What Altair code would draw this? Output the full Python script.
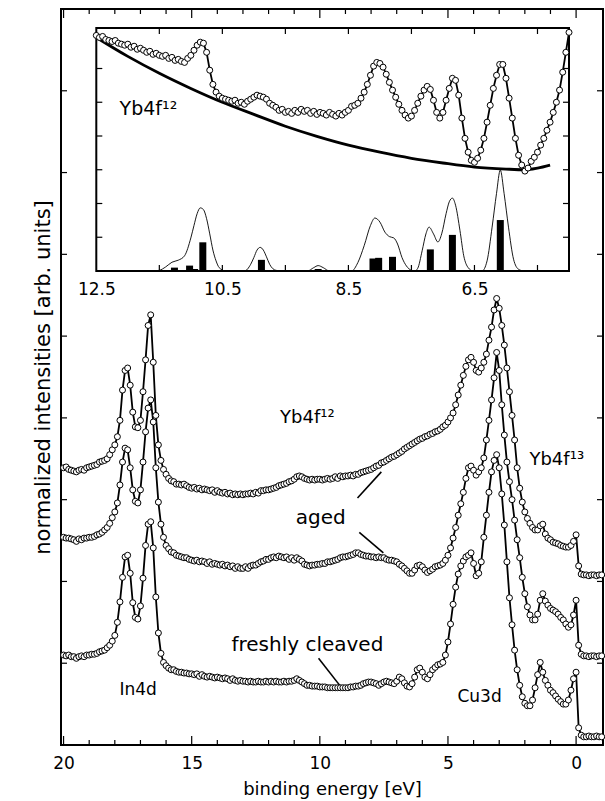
import altair as alt
import pandas as pd

# ---------------- main panel: energy grid (binding energy, eV) ----------------
ENERGY = [round(20.0 - 0.1 * i, 1) for i in range(211)]

# aged sample, upper curve (20.0 eV first, -1.0 eV last)
AGED_UPPER = [
    3.39,
    3.40, 3.37, 3.36, 3.35, 3.34, 3.36, 3.37, 3.36, 3.39, 3.40,
    3.41, 3.42, 3.43, 3.46, 3.47, 3.48, 3.50, 3.55, 3.61, 3.67,
    3.77, 3.97, 4.34, 4.58, 4.61, 4.40, 4.07, 3.89, 3.88, 3.97,
    4.32, 4.71, 5.13, 5.26, 4.68, 4.03, 3.67, 3.48, 3.37, 3.31,
    3.26, 3.23, 3.22, 3.19, 3.19, 3.18, 3.19, 3.17, 3.15, 3.14,
    3.15, 3.13, 3.14, 3.12, 3.13, 3.12, 3.11, 3.12, 3.09, 3.11,
    3.09, 3.08, 3.09, 3.07, 3.08, 3.06, 3.07, 3.06, 3.07, 3.06,
    3.07, 3.07, 3.08, 3.07, 3.09, 3.08, 3.11, 3.11, 3.12, 3.12,
    3.13, 3.14, 3.15, 3.17, 3.18, 3.19, 3.20, 3.22, 3.23, 3.25,
    3.28, 3.29, 3.28, 3.26, 3.25, 3.24, 3.25, 3.24, 3.25, 3.25,
    3.24, 3.25, 3.26, 3.25, 3.26, 3.28, 3.26, 3.29, 3.28, 3.29,
    3.29, 3.30, 3.29, 3.31, 3.31, 3.33, 3.34, 3.35, 3.36, 3.37,
    3.39, 3.41, 3.42, 3.45, 3.46, 3.48, 3.50, 3.52, 3.53, 3.55,
    3.57, 3.59, 3.62, 3.64, 3.66, 3.68, 3.70, 3.72, 3.74, 3.75,
    3.77, 3.78, 3.80, 3.81, 3.83, 3.84, 3.86, 3.89, 3.91, 3.95,
    4.00, 4.06, 4.16, 4.28, 4.40, 4.52, 4.63, 4.71, 4.74, 4.68,
    4.58, 4.56, 4.61, 4.68, 4.78, 4.95, 5.11, 5.32, 5.46, 5.34,
    5.13, 4.89, 4.61, 4.32, 4.03, 3.73, 3.39, 3.14, 2.97, 2.85,
    2.77, 2.71, 2.66, 2.63, 2.63, 2.68, 2.70, 2.58, 2.53, 2.51,
    2.48, 2.47, 2.46, 2.44, 2.43, 2.42, 2.42, 2.44, 2.49, 2.57,
    2.19, 2.09, 2.08, 2.08, 2.07, 2.08, 2.08, 2.07, 2.08, 2.08,
]

# aged sample, lower curve
AGED_LOWER = [
    2.54,
    2.53, 2.53, 2.52, 2.51, 2.49, 2.52, 2.51, 2.53, 2.53, 2.54,
    2.54, 2.55, 2.57, 2.58, 2.60, 2.63, 2.66, 2.71, 2.78, 2.85,
    2.96, 3.18, 3.46, 3.63, 3.61, 3.39, 3.12, 2.98, 2.96, 3.12,
    3.46, 3.83, 4.12, 4.22, 3.95, 3.39, 2.97, 2.70, 2.54, 2.44,
    2.40, 2.36, 2.35, 2.32, 2.31, 2.30, 2.29, 2.29, 2.27, 2.26,
    2.25, 2.26, 2.24, 2.25, 2.24, 2.22, 2.24, 2.21, 2.22, 2.21,
    2.20, 2.21, 2.19, 2.20, 2.18, 2.19, 2.16, 2.18, 2.16, 2.16,
    2.18, 2.16, 2.19, 2.20, 2.20, 2.22, 2.24, 2.25, 2.27, 2.27,
    2.29, 2.30, 2.29, 2.31, 2.30, 2.29, 2.30, 2.27, 2.29, 2.26,
    2.29, 2.27, 2.25, 2.21, 2.20, 2.19, 2.20, 2.20, 2.21, 2.21,
    2.22, 2.22, 2.24, 2.24, 2.25, 2.26, 2.27, 2.29, 2.30, 2.30,
    2.31, 2.32, 2.33, 2.35, 2.35, 2.33, 2.32, 2.31, 2.31, 2.30,
    2.30, 2.29, 2.30, 2.29, 2.29, 2.27, 2.26, 2.26, 2.25, 2.24,
    2.21, 2.19, 2.16, 2.13, 2.10, 2.10, 2.14, 2.19, 2.20, 2.18,
    2.14, 2.11, 2.13, 2.15, 2.18, 2.19, 2.20, 2.22, 2.26, 2.32,
    2.41, 2.53, 2.66, 2.81, 2.95, 3.09, 3.26, 3.39, 3.41, 3.36,
    3.30, 3.34, 3.39, 3.51, 3.73, 3.97, 4.22, 4.49, 4.80, 4.58,
    4.16, 3.79, 3.46, 3.22, 3.00, 2.75, 2.51, 2.29, 2.05, 1.85,
    1.69, 1.59, 1.53, 1.53, 1.60, 1.77, 1.85, 1.76, 1.71, 1.67,
    1.65, 1.63, 1.60, 1.56, 1.53, 1.48, 1.44, 1.47, 1.59, 1.77,
    1.22, 1.11, 1.09, 1.09, 1.08, 1.09, 1.09, 1.08, 1.09, 1.09,
]

# freshly cleaved sample
FRESH = [
    1.10,
    1.09, 1.10, 1.08, 1.08, 1.06, 1.08, 1.09, 1.08, 1.10, 1.10,
    1.11, 1.11, 1.12, 1.14, 1.15, 1.16, 1.19, 1.22, 1.27, 1.34,
    1.50, 1.75, 2.05, 2.30, 2.32, 2.10, 1.74, 1.56, 1.54, 1.70,
    2.04, 2.44, 2.70, 2.73, 2.41, 1.81, 1.37, 1.12, 1.01, 0.97,
    0.94, 0.92, 0.92, 0.90, 0.89, 0.89, 0.88, 0.88, 0.87, 0.87,
    0.86, 0.87, 0.84, 0.86, 0.84, 0.83, 0.84, 0.83, 0.82, 0.83,
    0.82, 0.81, 0.82, 0.81, 0.79, 0.81, 0.79, 0.78, 0.79, 0.78,
    0.78, 0.77, 0.78, 0.77, 0.77, 0.78, 0.77, 0.77, 0.78, 0.77,
    0.78, 0.77, 0.78, 0.77, 0.77, 0.78, 0.77, 0.78, 0.78, 0.79,
    0.81, 0.79, 0.77, 0.75, 0.73, 0.73, 0.72, 0.72, 0.72, 0.71,
    0.71, 0.71, 0.70, 0.70, 0.70, 0.70, 0.70, 0.70, 0.70, 0.70,
    0.70, 0.71, 0.71, 0.72, 0.72, 0.73, 0.75, 0.76, 0.77, 0.77,
    0.76, 0.75, 0.73, 0.75, 0.77, 0.78, 0.77, 0.76, 0.75, 0.78,
    0.83, 0.81, 0.76, 0.72, 0.71, 0.75, 0.83, 0.92, 0.94, 0.89,
    0.83, 0.81, 0.86, 0.92, 0.95, 0.98, 0.99, 1.01, 1.10, 1.26,
    1.48, 1.72, 1.93, 2.09, 2.19, 2.25, 2.30, 2.32, 2.35, 2.22,
    2.07, 2.10, 2.24, 2.54, 2.81, 3.09, 3.34, 3.48, 3.55, 3.39,
    3.07, 2.69, 2.24, 1.80, 1.47, 1.16, 0.92, 0.73, 0.59, 0.51,
    0.48, 0.48, 0.55, 0.70, 0.86, 1.01, 0.89, 0.79, 0.73, 0.67,
    0.64, 0.60, 0.56, 0.53, 0.50, 0.50, 0.55, 0.67, 0.81, 0.89,
    0.21, 0.12, 0.10, 0.10, 0.11, 0.10, 0.10, 0.11, 0.10, 0.10,
]

# ---------------- inset data ----------------
INSET_E = [round(12.5 - 0.05 * i, 2) for i in range(151)]
INSET_I = [
    6.98, 6.92, 6.95, 6.86, 6.83, 6.80, 6.83, 6.75, 6.72, 6.69,
    6.72, 6.63, 6.66, 6.57, 6.60, 6.54, 6.48, 6.51, 6.42, 6.45,
    6.39, 6.36, 6.39, 6.30, 6.33, 6.24, 6.27, 6.21, 6.18, 6.30,
    6.39, 6.54, 6.69, 6.78, 6.75, 6.48, 5.95, 5.53, 5.30, 5.18,
    5.12, 5.09, 5.06, 5.03, 5.06, 4.97, 5.00, 4.94, 5.03, 5.09,
    5.15, 5.21, 5.18, 5.15, 5.09, 4.97, 4.91, 4.85, 4.76, 4.79,
    4.70, 4.73, 4.67, 4.76, 4.70, 4.79, 4.73, 4.76, 4.67, 4.73,
    4.64, 4.70, 4.67, 4.62, 4.70, 4.64, 4.59, 4.67, 4.62, 4.70,
    4.76, 4.88, 4.91, 4.97, 5.12, 5.30, 5.53, 5.80, 6.07, 6.18,
    6.15, 6.04, 5.83, 5.59, 5.36, 5.15, 4.94, 4.76, 4.62, 4.53,
    4.59, 4.76, 4.97, 5.18, 5.36, 5.47, 5.38, 5.06, 4.70, 4.53,
    4.70, 5.06, 5.41, 5.71, 5.65, 5.21, 4.53, 3.93, 3.52, 3.28,
    3.22, 3.34, 3.58, 3.93, 4.41, 4.91, 5.41, 5.80, 6.12, 6.12,
    5.71, 5.12, 4.53, 3.93, 3.43, 3.14, 2.96, 3.05, 3.25, 3.37,
    3.52, 3.73, 3.93, 4.17, 4.41, 4.70, 5.00, 5.36, 5.89, 6.48,
    7.07,
]

BG_E = [12.5, 12.0, 11.5, 11.0, 10.5, 10.0, 9.5, 9.0, 8.5, 8.0, 7.5, 7.0, 6.5, 6.0, 5.7, 5.5, 5.3]
BG_I = [6.92, 6.36, 5.86, 5.41, 5.00, 4.64, 4.29, 3.99, 3.73, 3.52, 3.34, 3.20, 3.08, 3.02, 3.00, 3.05, 3.14]

ENV_E = [11.60, 11.50, 11.40, 11.30, 11.20, 11.10, 11.00, 10.95, 10.90, 10.85, 10.80, 10.75,
         10.70, 10.65, 10.60, 10.55, 10.45, 10.15, 10.05, 10.00, 9.95, 9.90, 9.85, 9.80,
         9.75, 9.65, 9.55, 9.15, 9.05, 8.98, 8.90, 8.80, 8.45, 8.35, 8.25, 8.15, 8.08,
         8.00, 7.92, 7.85, 7.78, 7.72, 7.65, 7.58, 7.50, 7.45, 7.40, 7.33, 7.27, 7.22,
         7.15, 7.08, 7.02, 6.95, 6.90, 6.85, 6.80, 6.73, 6.67, 6.60, 6.52, 6.38, 6.30,
         6.22, 6.15, 6.09, 6.03, 5.96, 5.88, 5.80, 5.72]
ENV_I = [0.00, 0.02, 0.12, 0.26, 0.32, 0.45, 0.98, 1.35, 1.70, 1.87, 1.82, 1.55,
         1.10, 0.62, 0.30, 0.10, 0.00, 0.00, 0.20, 0.40, 0.62, 0.70, 0.62, 0.42,
         0.20, 0.02, 0.00, 0.00, 0.10, 0.16, 0.10, 0.00, 0.00, 0.25, 0.75, 1.35, 1.57,
         1.45, 1.15, 1.02, 0.98, 0.80, 0.40, 0.15, 0.02, 0.00, 0.08, 0.60, 1.10, 1.30,
         1.10, 0.86, 1.10, 1.70, 2.05, 2.16, 1.95, 1.20, 0.45, 0.10, 0.00, 0.00, 0.30,
         1.30, 2.30, 2.99, 2.30, 1.30, 0.35, 0.05, 0.00]

STICK_E = [11.26, 11.02, 10.94, 10.81, 9.88, 8.98, 8.11, 8.02, 7.80, 7.20, 6.85, 6.09]
STICK_I = [0.10, 0.16, 0.06, 0.85, 0.33, 0.06, 0.37, 0.39, 0.42, 0.64, 1.07, 1.51]

# ---------------- annotations ----------------
BIG_TEXT = ["aged", "freshly cleaved"]
BIG_E = [10.94, 13.45]
BIG_I = [2.78, 1.22]
YB_TEXT = ["Yb4f\u00b9\u00b2", "Yb4f\u00b9\u00b3"]
YB_E = [11.55, 1.82]
YB_I = [4.00, 3.48]
SMALL_TEXT = ["In4d", "Cu3d"]
SMALL_E = [17.82, 4.63]
SMALL_I = [0.67, 0.59]
LEAD_E1 = [8.53, 8.46, 10.05]
LEAD_I1 = [3.02, 2.60, 1.06]
LEAD_E2 = [7.60, 7.52, 9.20]
LEAD_I2 = [3.34, 2.35, 0.72]

MAIN_TICKS_X = list(range(0, 21))
MAIN_TICKS_Y = [1, 2, 3, 4, 5, 6, 7, 8]
INSET_TICKS_X = [11.5, 10.5, 9.5, 8.5, 7.5, 6.5, 5.5]
INSET_TICKS_Y = [1, 2, 3, 4, 5, 6]
INSET_LABELS = [12.5, 10.5, 8.5, 6.5]

# ---------------- chart ----------------
FONT = "DejaVu Sans"
W, H = 542, 736
X0, X1, Y0, Y1 = 20.1, -1.05, 0.0, 9.0
IX0, IX1, IY0, IY1 = 12.5, 5.0, 0.0, 7.2

xm = alt.Scale(domain=[X0, X1], nice=False, zero=False)
ym = alt.Scale(domain=[Y0, Y1], nice=False, zero=False)
xi = alt.Scale(domain=[IX0, IX1], range=[30.3, 513.0], nice=False, zero=False)
yi = alt.Scale(domain=[IY0, IY1], range=[262.0, 19.0], nice=False, zero=False)

AX_MX = alt.Axis(
    values=[20, 15, 10, 5, 0], title="binding energy [eV]", ticks=False, domain=False,
    grid=False, labelFont=FONT, titleFont=FONT, labelFontSize=17, titleFontSize=18,
    titleFontWeight="normal", labelColor="black", titleColor="black",
    labelPadding=10, titlePadding=9, orient="bottom")
AX_MY = alt.Axis(
    labels=False, ticks=False, domain=False, grid=False, orient="left",
    title="normalized intensities [arb. units]", titleFont=FONT, titleFontSize=21,
    titleFontWeight="normal", titleColor="black", titlePadding=8)
AX_IX = alt.Axis(
    orient="bottom", offset=-(H - 262), values=INSET_LABELS, format=".1f",
    ticks=False, domain=False, grid=False, title=None, labelFont=FONT,
    labelFontSize=17, labelColor="black", labelPadding=10)

spec_df = pd.DataFrame({
    "E": ENERGY * 3,
    "I": AGED_UPPER + AGED_LOWER + FRESH,
    "s": ["aged upper"] * len(ENERGY) + ["aged lower"] * len(ENERGY) + ["fresh"] * len(ENERGY),
})


def mx(field="E:Q"):
    return alt.X(field, scale=xm, axis=AX_MX, title="binding energy [eV]")


def my(field="I:Q"):
    return alt.Y(field, scale=ym, axis=AX_MY, title="normalized intensities [arb. units]")


def ix(field="E:Q"):
    return alt.X(field, scale=xi, axis=AX_IX, title=None)


def iy(field="I:Q"):
    return alt.Y(field, scale=yi, axis=None, title=None)


line_main = alt.Chart(spec_df).mark_line(color="black", strokeWidth=1.8).encode(
    x=mx(), y=my(), detail="s:N")
pts_main = alt.Chart(spec_df).mark_point(
    shape="circle", filled=True, fill="white", stroke="black", strokeWidth=1, size=36, opacity=1
).encode(x=mx(), y=my(), detail="s:N")

major = [t for t in MAIN_TICKS_X if t % 5 == 0]
minor = [t for t in MAIN_TICKS_X if t % 5 != 0]


def xticks(vals, ybase, off, xch, ys, yax, width=1.2):
    return alt.Chart(pd.DataFrame({"t": vals})).mark_rule(
        color="black", strokeWidth=width, y2Offset=off
    ).encode(
        x=xch("t:Q"),
        y=alt.YDatum(ybase, scale=ys, axis=yax),
        y2=alt.Y2Datum(ybase),
    )


def yticks(vals, xbase, off, ych, xs, xax, width=1.2):
    return alt.Chart(pd.DataFrame({"t": vals})).mark_rule(
        color="black", strokeWidth=width, x2Offset=off
    ).encode(
        y=ych("t:Q"),
        x=alt.XDatum(xbase, scale=xs, axis=xax),
        x2=alt.X2Datum(xbase),
    )


main_ticks = [
    xticks(major, Y0, -9, mx, ym, AX_MY), xticks(minor, Y0, -5, mx, ym, AX_MY),
    xticks(major, Y1, 9, mx, ym, AX_MY), xticks(minor, Y1, 5, mx, ym, AX_MY),
    yticks(MAIN_TICKS_Y, X0, 6, my, xm, AX_MX), yticks(MAIN_TICKS_Y, X1, -6, my, xm, AX_MX),
]

lead_df = pd.DataFrame({"E1": LEAD_E1, "I1": LEAD_I1, "E2": LEAD_E2, "I2": LEAD_I2})
leaders = alt.Chart(lead_df).mark_rule(color="black", strokeWidth=1.6).encode(
    x=mx("E1:Q"), x2="E2:Q", y=my("I1:Q"), y2="I2:Q")


def text_layer(texts, es, ins, size, xch, ych):
    return alt.Chart(pd.DataFrame({"t": texts, "E": es, "I": ins})).mark_text(
        font=FONT, fontSize=size, align="left", baseline="middle", color="black"
    ).encode(x=xch(), y=ych(), text="t:N")


big_txt = text_layer(BIG_TEXT, BIG_E, BIG_I, 20, mx, my)
yb_txt = text_layer(YB_TEXT, YB_E, YB_I, 18, mx, my)
small_txt = text_layer(SMALL_TEXT, SMALL_E, SMALL_I, 17, mx, my)

main = alt.layer(line_main, *main_ticks, leaders, big_txt, yb_txt, small_txt, pts_main)

# ---------------- inset ----------------
frame = alt.Chart(pd.DataFrame({"a": [0]})).mark_rect(
    fill="white", stroke="black", strokeWidth=2
).encode(
    x=alt.XDatum(IX0, scale=xi, axis=AX_IX), x2=alt.X2Datum(IX1),
    y=alt.YDatum(IY0, scale=yi, axis=None), y2=alt.Y2Datum(IY1),
)
bg = alt.Chart(pd.DataFrame({"E": BG_E, "I": BG_I})).mark_line(
    color="black", strokeWidth=2.8, interpolate="monotone"
).encode(x=ix(), y=iy())
env = alt.Chart(pd.DataFrame({"E": ENV_E, "I": ENV_I})).mark_line(
    color="black", strokeWidth=0.9, interpolate="monotone"
).encode(x=ix(), y=iy())
sticks = alt.Chart(pd.DataFrame({"E": STICK_E, "I": STICK_I})).mark_bar(
    color="black", size=7
).encode(x=ix(), y=iy())

inset_df = pd.DataFrame({"E": INSET_E, "I": INSET_I})
inset_line = alt.Chart(inset_df).mark_line(color="black", strokeWidth=1.8).encode(x=ix(), y=iy())
inset_pts = alt.Chart(inset_df).mark_point(
    shape="circle", filled=True, fill="white", stroke="black", strokeWidth=1, size=36, opacity=1
).encode(x=ix(), y=iy())

inset_ticks = [
    xticks(INSET_TICKS_X, IY0, -6, ix, yi, None), xticks(INSET_TICKS_X, IY1, 6, ix, yi, None),
    yticks(INSET_TICKS_Y, IX0, 6, iy, xi, AX_IX), yticks(INSET_TICKS_Y, IX1, -6, iy, xi, AX_IX),
]
inset_txt = text_layer(["Yb4f\u00b9\u00b2"], [12.13], [4.79], 19, ix, iy)

inset = alt.layer(frame, bg, env, sticks, *inset_ticks, inset_line, inset_pts, inset_txt)

chart = alt.layer(main, inset).resolve_scale(x="independent", y="independent").properties(
    width=W, height=H,
    autosize=alt.AutoSizeParams(type="none"),
    padding={"left": 61, "top": 9, "right": 2, "bottom": 56},
    background="white",
).configure_view(stroke="black", strokeWidth=2)

chart.save("out.html", embed_options={"renderer": "svg", "actions": False})
